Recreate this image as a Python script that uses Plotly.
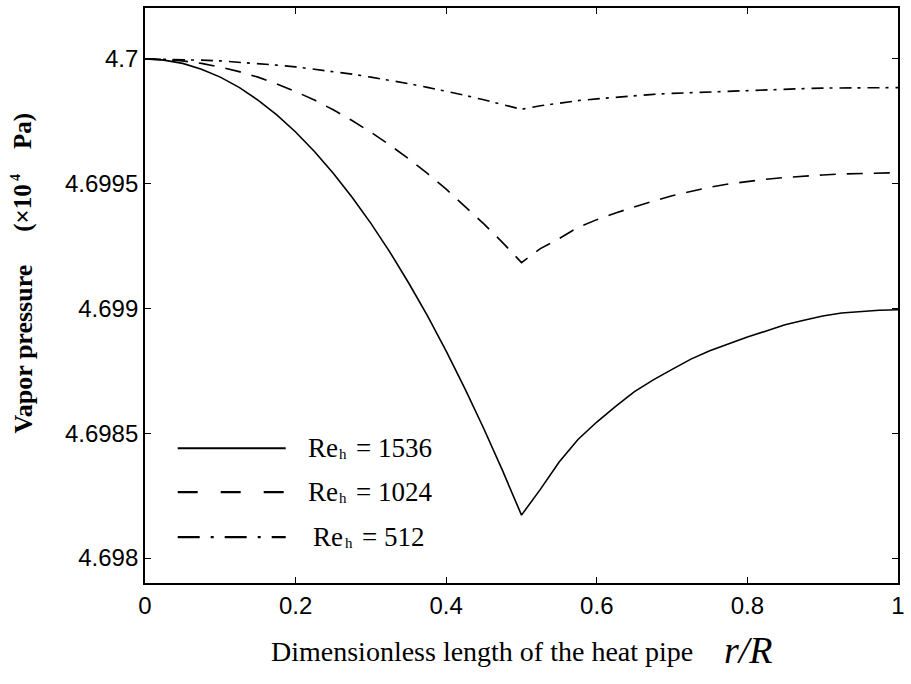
import plotly.graph_objects as go

# Dimensionless length r/R
x_vals = [0, 0.025, 0.05, 0.075, 0.1, 0.125, 0.15, 0.175, 0.2, 0.225, 0.25,
          0.275, 0.3, 0.325, 0.35, 0.375, 0.4, 0.425, 0.45, 0.475, 0.5,
          0.525, 0.55, 0.575, 0.6, 0.625, 0.65, 0.675, 0.7, 0.725, 0.75,
          0.775, 0.8, 0.825, 0.85, 0.875, 0.9, 0.925, 0.95, 0.975, 1.0]

# Vapor pressure (x10^4 Pa), Re_h = 1536
p_1536 = [4.700000, 4.699995, 4.699982, 4.699959, 4.699927, 4.699886, 4.699835,
          4.699776, 4.699707, 4.699629, 4.699542, 4.699446, 4.699341, 4.699227,
          4.699103, 4.698971, 4.698829, 4.698678, 4.698518, 4.698349, 4.698172,
          4.698275, 4.698385, 4.698475, 4.698545, 4.698608, 4.698667, 4.698714,
          4.698756, 4.698797, 4.698831, 4.698860, 4.698886, 4.698910, 4.698935,
          4.698953, 4.698970, 4.698982, 4.698989, 4.698993, 4.698995]

# Re_h = 1024
p_1024 = [4.700000, 4.699998, 4.699992, 4.699982, 4.699967, 4.699949, 4.699927,
          4.699900, 4.699869, 4.699835, 4.699796, 4.699753, 4.699706, 4.699655,
          4.699600, 4.699541, 4.699478, 4.699410, 4.699339, 4.699264, 4.699184,
          4.699240, 4.699280, 4.699325, 4.699356, 4.699383, 4.699408, 4.699430,
          4.699452, 4.699470, 4.699486, 4.699499, 4.699510, 4.699518, 4.699525,
          4.699531, 4.699535, 4.699539, 4.699541, 4.699543, 4.699544]

# Re_h = 512
p_512 = [4.700000, 4.699999, 4.699998, 4.699995, 4.699992, 4.699987, 4.699982,
         4.699975, 4.699968, 4.699959, 4.699950, 4.699939, 4.699927, 4.699915,
         4.699901, 4.699886, 4.699871, 4.699854, 4.699836, 4.699818, 4.699798,
         4.699812, 4.699823, 4.699833, 4.699840, 4.699847, 4.699853, 4.699858,
         4.699862, 4.699865, 4.699868, 4.699871, 4.699874, 4.699877, 4.699879,
         4.699881, 4.699883, 4.699884, 4.699885, 4.699885, 4.699885]

re_values = ["1536", "1024", "512"]
x_ticks = [0, 0.2, 0.4, 0.6, 0.8, 1]
x_tick_labels = ["0", "0.2", "0.4", "0.6", "0.8", "1"]
y_ticks = [4.698, 4.6985, 4.699, 4.6995, 4.7]
y_tick_labels = ["4.698", "4.6985", "4.699", "4.6995", "4.7"]

curve_dashes = ["solid", "16px,11px", "12px,6px,3px,7px"]
legend_dashes = ["solid", "20px,23px", "22px,11px,3px,11px"]
all_series = [p_1536, p_1024, p_512]

W, H = 911, 684
ML, MR, MT, MB = 145, 6, 7, 101
PW, PH = W - ML - MR, H - MT - MB
SERIF = "Liberation Serif"


def px_x(px):
    return (px - ML) / PW


def px_y(py):
    return (H - MB - py) / PH


def label(px, py, text, size, xanchor="left", angle=0, bold=False, italic=False):
    if bold:
        text = "<b>" + text + "</b>"
    if italic:
        text = "<i>" + text + "</i>"
    return dict(xref="paper", yref="paper", x=px_x(px), y=px_y(py),
                xanchor=xanchor, yanchor="middle", showarrow=False,
                textangle=angle, text=text,
                font=dict(family=SERIF, size=size, color="black"))


fig = go.Figure()
for ys, rv, dash in zip(all_series, re_values, curve_dashes):
    fig.add_trace(go.Scatter(x=x_vals, y=ys, mode="lines", name="Re_h = " + rv,
                             line=dict(color="black", width=1.6, dash=dash),
                             showlegend=False))

shapes = []
annotations = []
leg_rows = [448, 492, 537]
leg_text_x = [307, 307, 313]
for row, rv, dash, tx in zip(leg_rows, re_values, legend_dashes, leg_text_x):
    shapes.append(dict(type="line", xref="paper", yref="paper",
                       x0=px_x(178), x1=px_x(287), y0=px_y(row), y1=px_y(row),
                       line=dict(color="black", width=2.2, dash=dash)))
    annotations.append(label(tx, row, "Re", 27))
    annotations.append(label(tx + 32, row + 6, "h", 15))
    annotations.append(label(tx + 49, row, "= " + rv, 27))

# y axis title (rotated), pieces
annotations.append(label(22, 349, "Vapor pressure", 26, xanchor="center", angle=-90, bold=True))
annotations.append(label(22, 207, "(×10", 25, xanchor="center", angle=-90, bold=True))
annotations.append(label(14, 177, "4", 14, xanchor="center", angle=-90, bold=True))
annotations.append(label(22, 130, "Pa)", 25, xanchor="center", angle=-90, bold=True))

# x axis title
annotations.append(label(270, 652, "Dimensionless length of the heat pipe", 28))
annotations.append(label(727, 650, "r/R", 38, italic=True))

fig.update_layout(
    width=W, height=H,
    margin=dict(l=ML, r=MR, t=MT, b=MB),
    paper_bgcolor="white", plot_bgcolor="white",
    shapes=shapes, annotations=annotations,
    showlegend=False,
)
fig.update_xaxes(range=[0, 1], tickvals=x_ticks, ticktext=x_tick_labels,
                 showgrid=False, zeroline=False, showline=True, linecolor="black",
                 linewidth=1.8, mirror="ticks", ticks="inside", ticklen=6,
                 tickcolor="black", tickwidth=1.3,
                 tickfont=dict(family="Liberation Sans", size=24, color="black"))
fig.update_yaxes(range=[4.6979, 4.700204], tickvals=y_ticks, ticktext=y_tick_labels,
                 showgrid=False, zeroline=False, showline=True, linecolor="black",
                 linewidth=1.8, mirror="ticks", ticks="inside", ticklen=6,
                 tickcolor="black", tickwidth=1.3,
                 tickfont=dict(family="Liberation Sans", size=24, color="black"))

fig.write_html("out.html")
